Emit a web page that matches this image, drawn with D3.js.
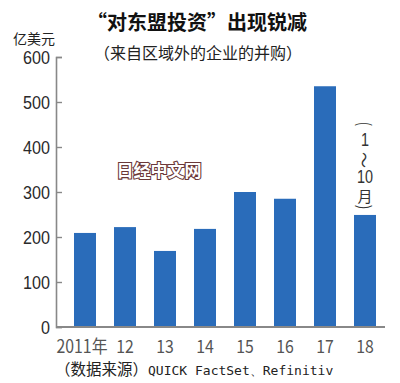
<!DOCTYPE html>
<html><head><meta charset="utf-8">
<script src="https://cdn.jsdelivr.net/npm/d3@7"></script>
<style>
html,body{margin:0;padding:0;background:#fff;}
svg{display:block;font-family:"Noto Sans CJK SC","Noto Sans",sans-serif;}
</style></head>
<body>
<script>
const categories = ["2011年","12","13","14","15","16","17","18"];
const values = [209, 222, 169, 218, 300, 285, 535, 249];
const yTicks = [0, 100, 200, 300, 400, 500, 600];
const title = "“对东盟投资”出现锐减";
const subtitle = "（来自区域外的企业的并购）";
const unit = "亿美元";
const sourceCn = "（数据来源）";
const sourceEn = "QUICK FactSet、Refinitiv";
const watermark = "日经中文网";
const noteParts = ["(","1","～","10","月",")"];

const W = 400, H = 383;
const svg = d3.select("body").append("svg").attr("width", W).attr("height", H);

const y = d3.scaleLinear().domain([0, 600]).range([327, 57]);
const x = d3.scaleBand().domain(categories).range([65, 385]).paddingInner(0.45).paddingOuter(0.225);

// title
svg.append("text").attr("x", 197).attr("y", 30).attr("text-anchor", "middle")
  .attr("font-size", 20).attr("font-weight", "bold").attr("fill", "#111").text(title);
svg.append("text").attr("x", 198).attr("y", 59).attr("text-anchor", "middle")
  .attr("font-size", 16).attr("fill", "#222").text(subtitle);
svg.append("text").attr("x", 13).attr("y", 44)
  .attr("font-size", 14).attr("fill", "#222").text(unit);

// bars
svg.selectAll("rect.bar").data(values).enter().append("rect")
  .attr("class", "bar")
  .attr("x", (d, i) => x(categories[i]))
  .attr("width", x.bandwidth())
  .attr("y", d => y(d))
  .attr("height", d => y(0) - y(d))
  .attr("fill", "#2a6cba");

// y axis
const yAxis = d3.axisRight(y).tickValues(yTicks).tickSize(6).tickFormat("");
const gy = svg.append("g").attr("transform", "translate(56,0)").call(yAxis);
gy.select(".domain").attr("stroke", "#888").attr("stroke-width", 1.6);
gy.selectAll(".tick line").attr("stroke", "#888").attr("stroke-width", 1.4);
svg.selectAll("text.ylab").data(yTicks).enter().append("text")
  .attr("class", "ylab")
  .attr("transform", d => `translate(50,${y(d) + 7}) scale(0.85,1)`)
  .attr("text-anchor", "end")
  .attr("font-family", "Liberation Sans, Arial, sans-serif")
  .attr("font-size", 19).attr("fill", "#2a2a2a")
  .text(d => d);

// x axis
svg.append("line").attr("x1", 56).attr("x2", 385).attr("y1", y(0)).attr("y2", y(0))
  .attr("stroke", "#888").attr("stroke-width", 1.8);
svg.selectAll("text.xlab").data(categories).enter().append("text")
  .attr("class", "xlab")
  .attr("transform", (d, i) => `translate(${x(d) + x.bandwidth() / 2 - (i === 0 ? 3 : 0)},353) scale(0.88,1)`)
  .attr("text-anchor", "middle")
  .attr("font-size", 18).attr("fill", "#555")
  .text(d => d);

// source
const src = svg.append("text").attr("x", 55).attr("y", 375).attr("font-size", 15.5).attr("fill", "#222");
src.append("tspan").text(sourceCn);
src.append("tspan").attr("font-family", "DejaVu Sans Mono, monospace").attr("font-size", 13).text(sourceEn);

// watermark
svg.append("text").attr("x", 159).attr("y", 177).attr("text-anchor", "middle")
  .attr("font-size", 17).attr("font-weight", "bold")
  .attr("fill", "#fff").attr("stroke", "#6b3838").attr("stroke-width", 2.2)
  .attr("paint-order", "stroke").text(watermark);

// vertical note above last bar
const cx = x("18") + x.bandwidth() / 2;
const noteY = [124, 139, 160, 176, 195, 207];
noteParts.forEach((t, i) => {
  const el = svg.append("text")
    .attr("text-anchor", "middle").attr("dominant-baseline", "central")
    .attr("fill", "#333").text(t);
  if (t === "(" || t === ")") {
    el.attr("font-size", 18)
      .attr("font-family", "Liberation Sans, sans-serif")
      .attr("transform", `translate(${cx},${noteY[i]}) rotate(90) scale(0.6,1)`);
  } else if (t === "～") {
    el.attr("font-size", 16)
      .attr("transform", `translate(${cx},${noteY[i]}) rotate(90)`);
  } else if (t === "月") {
    el.attr("font-size", 15).attr("transform", `translate(${cx},${noteY[i]})`);
  } else {
    el.attr("font-size", 18).attr("font-family", "Liberation Sans, sans-serif")
      .attr("transform", `translate(${cx},${noteY[i]}) scale(0.8,1)`);
  }
});
</script>
</body></html>
